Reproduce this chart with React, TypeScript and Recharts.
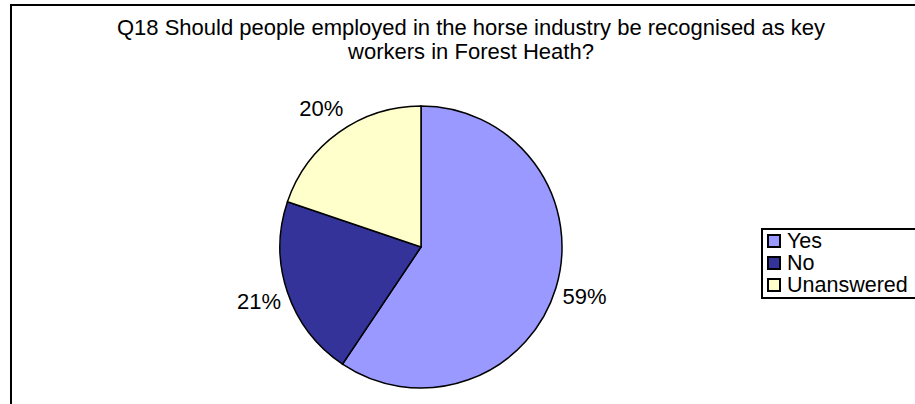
import React from "react";
import { PieChart, Pie, Cell, Legend } from "recharts";

const categories = ["Yes", "No", "Unanswered"];
const values = [59.4, 20.8, 19.8];
const colors = ["#9999FF", "#333399", "#FFFFCC"];
const titleLines = [
  "Q18 Should people employed in the horse industry be recognised as key",
  "workers in Forest Heath?",
];

const data = categories.map((name, i) => ({ name, value: values[i] }));
const total = values.reduce((a, b) => a + b, 0);
const FONT = "'Liberation Sans', Arial, sans-serif";
const RADIAN = Math.PI / 180;

const renderLabel = (props: any) => {
  const { cx, cy, midAngle, outerRadius, value } = props;
  const r = outerRadius + 30;
  const x = cx + r * Math.cos(-midAngle * RADIAN);
  const y = cy + r * Math.sin(-midAngle * RADIAN);
  return (
    <text
      x={x}
      y={y}
      textAnchor="middle"
      dominantBaseline="central"
      fontFamily={FONT}
      fontSize={22}
      fill="#000"
    >
      {`${Math.round((value / total) * 100)}%`}
    </text>
  );
};

const LegendContent = () => (
  <div
    style={{
      border: "2px solid #000",
      borderRight: "none",
      background: "#fff",
      width: 170,
      height: 71,
      boxSizing: "border-box",
      paddingTop: 0,
      paddingLeft: 4,
    }}
  >
    {categories.map((c, i) => (
      <div
        key={c}
        style={{
          display: "flex",
          alignItems: "center",
          height: 22,
          lineHeight: "20px",
          fontFamily: FONT,
          fontSize: 21.5,
          color: "#000",
          whiteSpace: "nowrap",
        }}
      >
        <span
          style={{
            display: "inline-block",
            width: 10,
            height: 10,
            background: colors[i],
            border: "2px solid #000",
            marginRight: 6,
            flex: "none",
          }}
        />
        <span style={{ lineHeight: "20px" }}>{c}</span>
      </div>
    ))}
  </div>
);

export default function App() {
  return (
    <div
      style={{
        position: "absolute",
        left: 0,
        top: 0,
        width: 915,
        height: 404,
        overflow: "hidden",
        background: "#fff",
      }}
    >
      <div
        style={{
          position: "absolute",
          left: 10,
          top: 4,
          width: 940,
          height: 440,
          border: "2px solid #000",
          boxSizing: "border-box",
        }}
      />
      <div
        style={{
          position: "absolute",
          left: 71,
          top: 16,
          width: 800,
          textAlign: "center",
          fontFamily: FONT,
          fontSize: 22,
          lineHeight: "24px",
          color: "#000",
        }}
      >
        {titleLines[0]}
        <br />
        {titleLines[1]}
      </div>
      <div style={{ position: "absolute", left: 0, top: 0 }}>
        <PieChart width={915} height={404}>
          <Pie
            data={data}
            dataKey="value"
            nameKey="name"
            cx={416}
            cy={242}
            outerRadius={141}
            startAngle={90}
            endAngle={-270}
            stroke="#000"
            strokeWidth={1.5}
            label={renderLabel}
            labelLine={false}
            isAnimationActive={false}
          >
            {data.map((d, i) => (
              <Cell key={d.name} fill={colors[i]} />
            ))}
          </Pie>
          <Legend
            content={<LegendContent />}
            wrapperStyle={{ position: "absolute", left: 761, top: 228, width: 170 }}
          />
        </PieChart>
      </div>
    </div>
  );
}
